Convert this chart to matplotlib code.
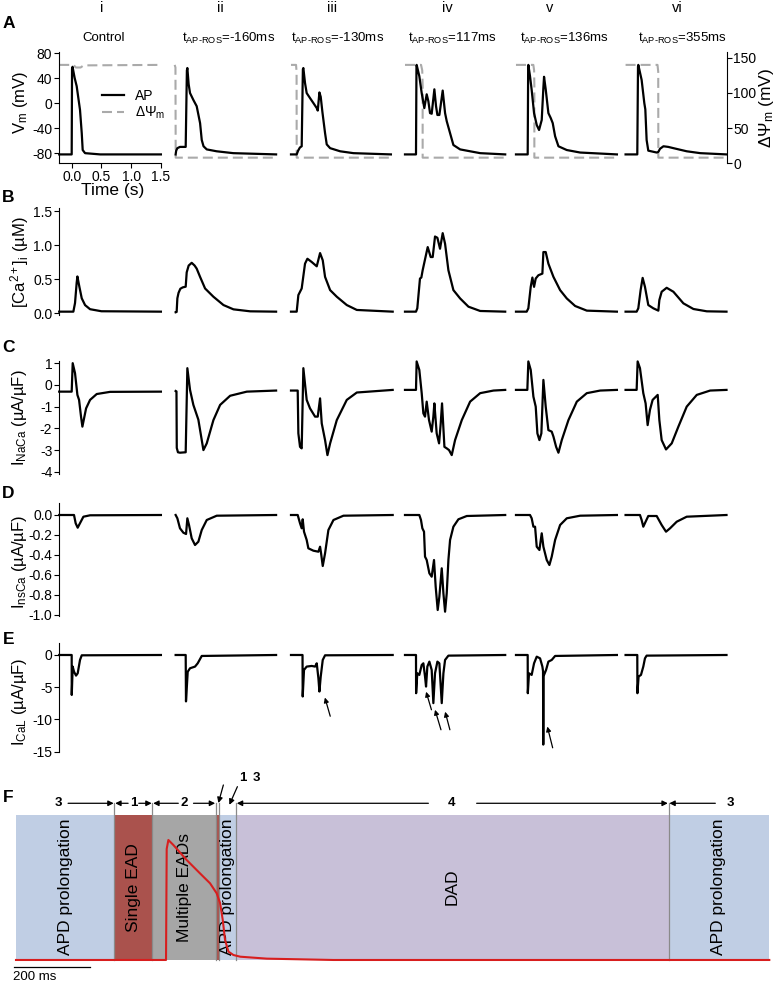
import matplotlib
matplotlib.use("Agg")
import matplotlib.pyplot as plt
import numpy as np

plt.rcParams['font.family'] = ['Liberation Sans', 'DejaVu Sans']
plt.rcParams['mathtext.fontset'] = 'custom'
plt.rcParams['mathtext.rm'] = 'Liberation Sans'
plt.rcParams['mathtext.it'] = 'Liberation Sans:italic'
plt.rcParams['mathtext.bf'] = 'Liberation Sans:bold'
plt.rcParams['axes.unicode_minus'] = False

# ---------------- data ----------------
col_headers = ["i", "ii", "iii", "iv", "v", "vi"]
col_titles = ["Control",
              r"t$_{\mathrm{AP}\text{-}\mathrm{ROS}}$=-160ms",
              r"t$_{\mathrm{AP}\text{-}\mathrm{ROS}}$=-130ms",
              r"t$_{\mathrm{AP}\text{-}\mathrm{ROS}}$=117ms",
              r"t$_{\mathrm{AP}\text{-}\mathrm{ROS}}$=136ms",
              r"t$_{\mathrm{AP}\text{-}\mathrm{ROS}}$=355ms"]

# A: membrane potential (s, mV)
vm_traces = [
    [(-0.21, -82), (0.0, -82), (0.006, 55), (0.014, 58), (0.05, 40), (0.084, 27), (0.14, -11),
     (0.169, -48), (0.185, -75), (0.225, -80), (0.48, -82), (1.5, -82)],
    [(-0.169, -82), (-0.16, -76), (-0.14, -72), (-0.096, -70), (0.0, -70), (0.02, 52), (0.028, 56),
     (0.05, 30), (0.073, 16), (0.129, 5), (0.185, -5), (0.242, -32), (0.27, -59), (0.3, -69),
     (0.354, -74), (0.52, -77), (0.8, -80), (1.52, -82)],
    [(-0.18, -82), (-0.084, -82), (-0.06, -76), (-0.03, -71), (0.0, -69), (0.02, 54), (0.028, 56),
     (0.056, 32), (0.084, 16), (0.14, 8), (0.197, 0), (0.253, -8), (0.27, -12), (0.298, 17),
     (0.32, 10), (0.348, -14), (0.393, -48), (0.421, -66), (0.478, -72), (0.646, -77),
     (0.87, -80), (1.5, -82)],
    [(-0.185, -82), (0.0, -82), (0.008, 58), (0.011, 61), (0.056, 43), (0.096, 16), (0.14, -8),
     (0.18, 14), (0.208, 3), (0.236, -16), (0.264, -17), (0.309, 22), (0.337, -5), (0.36, -19),
     (0.393, -19), (0.449, 20), (0.489, -16), (0.517, -29), (0.573, -48), (0.629, -67),
     (0.742, -74), (0.91, -77), (1.08, -80), (1.5, -82)],
    [(-0.197, -82), (0.0, -82), (0.008, 58), (0.011, 61), (0.039, 43), (0.067, 21), (0.107, -16),
     (0.152, -35), (0.191, -43), (0.236, -27), (0.264, 25), (0.275, 42), (0.303, 22),
     (0.348, -16), (0.388, -24), (0.421, -32), (0.461, -53), (0.517, -69), (0.657, -75),
     (0.882, -79), (1.5, -82)],
    [(-0.197, -82), (0.0, -82), (0.012, 58), (0.017, 61), (0.073, 37), (0.118, 0), (0.135, -10),
     (0.157, -59), (0.185, -76), (0.326, -79), (0.354, -78), (0.382, -73), (0.44, -69),
     (0.52, -70), (0.607, -72), (0.831, -77), (1.06, -80), (1.5, -82)],
]

# A: mitochondrial membrane potential (s, mV)
psi_traces = [
    [(-0.21, 139.7), (0.03, 139.7), (0.07, 136), (0.15, 136), (0.2, 139), (1.5, 139.7)],
    [(-0.185, 139.7), (-0.172, 136), (-0.168, 8), (1.52, 8)],
    [(-0.18, 139.7), (-0.095, 139.7), (-0.086, 130), (-0.084, 8), (1.53, 8)],
    [(-0.185, 139.7), (0.085, 139.7), (0.105, 132), (0.112, 110), (0.112, 8), (1.5, 8)],
    [(-0.197, 139.7), (0.095, 139.7), (0.108, 132), (0.112, 110), (0.112, 8), (1.5, 8)],
    [(-0.197, 139.7), (0.34, 139.7), (0.352, 130), (0.354, 8), (1.5, 8)],
]

# B: cytosolic calcium (s, uM)
cai_traces = [
    [(-0.21, 0.024), (0.028, 0.024), (0.056, 0.15), (0.084, 0.45), (0.096, 0.54), (0.129, 0.39),
     (0.169, 0.22), (0.225, 0.12), (0.309, 0.06), (0.5, 0.03), (1.5, 0.024)],
    [(-0.169, 0.015), (-0.152, 0.02), (-0.14, 0.22), (-0.12, 0.30), (-0.09, 0.36), (-0.05, 0.38),
     (0.0, 0.39), (0.017, 0.6), (0.05, 0.70), (0.101, 0.74), (0.15, 0.70), (0.185, 0.655),
     (0.242, 0.534), (0.326, 0.364), (0.466, 0.243), (0.635, 0.121), (0.803, 0.058),
     (1.084, 0.029), (1.52, 0.024)],
    [(-0.18, 0.024), (-0.084, 0.024), (-0.056, 0.267), (0.0, 0.364), (0.056, 0.728),
     (0.096, 0.80), (0.169, 0.752), (0.253, 0.689), (0.309, 0.883), (0.354, 0.777),
     (0.393, 0.534), (0.478, 0.34), (0.59, 0.243), (0.758, 0.121), (0.927, 0.049), (1.53, 0.024)],
    [(-0.185, 0.024), (0.0, 0.024), (0.022, 0.073), (0.067, 0.51), (0.09, 0.524), (0.112, 0.631),
     (0.197, 0.971), (0.247, 0.825), (0.281, 0.825), (0.32, 1.126), (0.36, 1.107), (0.404, 0.947),
     (0.449, 1.175), (0.489, 1.019), (0.545, 0.631), (0.629, 0.34), (0.742, 0.218),
     (0.882, 0.097), (1.079, 0.034), (1.5, 0.024)],
    [(-0.197, 0.024), (-0.017, 0.024), (0.011, 0.073), (0.051, 0.388), (0.079, 0.524),
     (0.107, 0.388), (0.135, 0.51), (0.18, 0.558), (0.247, 0.582), (0.264, 0.898),
     (0.303, 0.898), (0.348, 0.728), (0.433, 0.534), (0.545, 0.34), (0.657, 0.218),
     (0.798, 0.107), (0.994, 0.039), (1.5, 0.024)],
    [(-0.197, 0.024), (-0.011, 0.024), (0.017, 0.073), (0.056, 0.34), (0.09, 0.519),
     (0.129, 0.388), (0.185, 0.121), (0.27, 0.073), (0.354, 0.039), (0.371, 0.194),
     (0.41, 0.316), (0.494, 0.374), (0.607, 0.316), (0.775, 0.146), (0.944, 0.063),
     (1.169, 0.029), (1.5, 0.024)],
]

# C: Na/Ca exchanger current (s, uA/uF)
inaca_traces = [
    [(-0.21, -0.31), (0.0, -0.31), (0.017, 1.0), (0.056, 0.54), (0.096, -0.46), (0.124, -0.69),
     (0.157, -1.46), (0.18, -1.92), (0.208, -1.54), (0.242, -1.08), (0.309, -0.69),
     (0.421, -0.42), (0.646, -0.32), (1.5, -0.31)],
    [(-0.169, -0.28), (-0.155, -0.3), (-0.15, -2.9), (-0.13, -3.1), (-0.096, -3.12),
     (0.0, -3.1), (0.028, 0.77), (0.073, -0.23), (0.129, -0.92), (0.213, -1.6), (0.298, -3.0),
     (0.354, -2.69), (0.466, -1.62), (0.579, -0.92), (0.747, -0.5), (1.028, -0.31), (1.52, -0.26)],
    [(-0.18, -0.26), (-0.067, -0.26), (-0.056, -2.23), (-0.028, -2.85), (0.0, -2.92),
     (0.028, 0.77), (0.084, -0.69), (0.14, -1.08), (0.225, -1.46), (0.27, -1.46), (0.309, -0.62),
     (0.337, -1.77), (0.393, -2.54), (0.433, -3.23), (0.478, -2.69), (0.59, -1.62),
     (0.758, -0.69), (0.927, -0.35), (1.53, -0.23)],
    [(-0.185, -0.23), (0.0, -0.23), (0.011, 1.08), (0.056, 0.69), (0.096, -0.38), (0.124, -1.31),
     (0.152, -1.46), (0.18, -0.77), (0.219, -1.62), (0.264, -2.15), (0.292, -1.46),
     (0.309, -0.85), (0.348, -2.23), (0.388, -2.69), (0.416, -1.77), (0.438, -0.85),
     (0.478, -2.85), (0.517, -2.92), (0.556, -3.0), (0.601, -3.23), (0.657, -2.54),
     (0.77, -1.62), (0.91, -0.77), (1.079, -0.38), (1.303, -0.26), (1.5, -0.23)],
    [(-0.197, -0.23), (-0.006, -0.23), (0.011, 1.08), (0.051, 0.69), (0.096, -0.54),
     (0.135, -1.0), (0.163, -2.23), (0.197, -2.54), (0.23, -2.23), (0.264, 0.23), (0.303, -1.0),
     (0.348, -2.08), (0.404, -2.15), (0.433, -2.38), (0.478, -2.85), (0.517, -3.12),
     (0.573, -2.54), (0.685, -1.62), (0.826, -0.77), (0.994, -0.38), (1.219, -0.26), (1.5, -0.23)],
    [(-0.197, -0.23), (-0.011, -0.23), (0.006, 1.08), (0.045, 0.77), (0.101, -0.38),
     (0.14, -0.85), (0.174, -1.85), (0.213, -1.15), (0.258, -0.69), (0.343, -0.46),
     (0.371, -1.62), (0.41, -2.54), (0.483, -2.97), (0.579, -2.69), (0.691, -1.92),
     (0.831, -1.0), (1.0, -0.46), (1.225, -0.26), (1.5, -0.23)],
]

# D: nonspecific Ca-activated current (s, uA/uF)
insca_traces = [
    [(-0.21, 0), (0.039, 0), (0.067, -0.083), (0.101, -0.127), (0.124, -0.1), (0.197, -0.017),
     (0.309, -0.003), (1.5, 0)],
    [(-0.169, 0), (-0.14, -0.033), (-0.096, -0.133), (-0.039, -0.177), (0.006, -0.19),
     (0.028, -0.033), (0.056, -0.1), (0.101, -0.233), (0.157, -0.3), (0.213, -0.267),
     (0.27, -0.15), (0.354, -0.05), (0.522, -0.007), (1.52, 0)],
    [(-0.18, 0), (-0.067, 0), (-0.028, -0.083), (0.0, -0.133), (0.017, -0.043), (0.039, -0.167),
     (0.084, -0.25), (0.112, -0.333), (0.197, -0.357), (0.281, -0.367), (0.309, -0.317),
     (0.326, -0.383), (0.354, -0.51), (0.393, -0.383), (0.449, -0.15), (0.534, -0.05),
     (0.702, -0.007), (1.53, 0)],
    [(-0.185, 0), (0.056, 0), (0.084, -0.05), (0.107, -0.133), (0.135, -0.167), (0.152, -0.417),
     (0.18, -0.45), (0.225, -0.583), (0.264, -0.617), (0.303, -0.45), (0.331, -0.717),
     (0.365, -0.95), (0.393, -0.817), (0.433, -0.533), (0.461, -0.783), (0.489, -0.967),
     (0.517, -0.783), (0.545, -0.45), (0.573, -0.25), (0.629, -0.117), (0.713, -0.043),
     (0.854, -0.01), (1.5, 0)],
    [(-0.197, 0), (0.039, 0), (0.067, -0.033), (0.096, -0.117), (0.124, -0.117), (0.152, -0.317),
     (0.197, -0.35), (0.236, -0.183), (0.264, -0.317), (0.32, -0.45), (0.365, -0.5),
     (0.404, -0.417), (0.461, -0.25), (0.545, -0.1), (0.657, -0.033), (0.882, -0.007), (1.5, 0)],
    [(-0.197, 0), (0.045, 0), (0.073, -0.05), (0.101, -0.117), (0.14, -0.067), (0.185, -0.01),
     (0.326, -0.01), (0.41, -0.1), (0.483, -0.167), (0.551, -0.133), (0.663, -0.067),
     (0.831, -0.017), (1.5, 0)],
]

# E: L-type Ca current (s, uA/uF)
ical_traces = [
    [(-0.21, 0), (0.0, 0), (0.001, -6.2), (0.017, -1.8), (0.039, -2.58), (0.073, -3.2),
     (0.101, -2.84), (0.14, -0.77), (0.169, -0.05), (1.5, 0)],
    [(-0.169, 0), (0.0, 0), (0.005, -7.2), (0.034, -2.6), (0.073, -2.06), (0.157, -1.8),
     (0.202, -1.29), (0.27, -0.15), (1.52, 0)],
    [(-0.18, 0), (0.014, 0), (0.017, -6.44), (0.039, -2.32), (0.084, -1.8), (0.169, -1.7),
     (0.225, -1.8), (0.253, -1.29), (0.281, -3.61), (0.298, -5.67), (0.32, -3.35),
     (0.354, -0.77), (0.393, -0.05), (1.53, 0)],
    [(-0.185, 0), (0.0, 0), (0.002, -5.93), (0.022, -2.84), (0.056, -3.09), (0.096, -1.55),
     (0.124, -1.29), (0.152, -3.35), (0.169, -4.9), (0.191, -1.8), (0.225, -1.03),
     (0.264, -2.32), (0.292, -7.47), (0.32, -2.84), (0.36, -1.03), (0.393, -1.29),
     (0.433, -7.47), (0.461, -2.84), (0.489, -0.77), (0.545, -0.1), (1.5, 0)],
    [(-0.197, 0), (0.0, 0), (0.002, -5.93), (0.022, -2.84), (0.067, -3.09), (0.107, -1.29),
     (0.152, -0.26), (0.208, -0.52), (0.247, -1.8), (0.258, -2.5), (0.262, -13.9), (0.266, -3.3),
     (0.309, -2.32), (0.348, -1.03), (0.404, -0.77), (0.461, -0.15), (1.5, 0)],
    [(-0.197, 0), (0.0, 0), (0.002, -5.93), (0.022, -3.35), (0.062, -3.09), (0.101, -1.8),
     (0.129, -0.52), (0.157, -0.1), (1.5, 0)],
]

# F: classification along t_AP-ROS (ms)
f_edges = [0, 259, 359, 526, 534, 579, 1717, 1982]
f_kinds = ["apd", "single", "multi", "single", "apd", "dad", "apd"]
f_names = ["APD prolongation", "Single EAD", "Multiple EADs", "", "APD prolongation", "DAD",
           "APD prolongation"]
f_ap_ms = [0, 394.7, 396.5, 400.9, 414, 449, 484, 510.6, 528, 537, 544, 550, 559, 572, 590,
           660, 835, 1982]
f_ap_mv = [-85, -85, 40, 50, 44.4, 27.5, 12.5, 1.25, -10, -21, -40, -62.5, -75.6, -79.4, -81.3,
           -83.5, -85, -85]

# ---------------- layout ----------------
W, H = 777, 985
fig = plt.figure(figsize=(W / 100, H / 100), dpi=100)


def px_axes(left, top, width, height):
    return fig.add_axes([left / W, 1 - (top + height) / H, width / W, height / H])


def ftext(x, y, s, **kw):
    fig.text(x / W, 1 - y / H, s, **kw)


col_left = [59.2, 173.2, 289.2, 403.5, 515.2, 624.8]
col_w = 101.7
xlim = (-0.21, 1.5)
rows = {  # top px, bottom px, ylim
    "A": (52, 163.3, (-96.2, 81.6)),
    "B": (208, 315, (-0.025, 1.544)),
    "C": (361, 474, (-4.1, 1.1)),
    "D": (503, 616, (-1.01, 0.12)),
    "E": (643, 752, (-15.05, 1.86)),
}
row_ticks = {
    "A": ([80, 40, 0, -40, -80], None),
    "B": ([0.0, 0.5, 1.0, 1.5], "%.1f"),
    "C": ([1, 0, -1, -2, -3, -4], None),
    "D": ([0.0, -0.2, -0.4, -0.6, -0.8, -1.0], "%.1f"),
    "E": ([0, -5, -10, -15], None),
}
row_data = {"B": cai_traces, "C": inaca_traces, "D": insca_traces, "E": ical_traces}
row_labels = {
    "A": (r"V$_{\mathrm{m}}$ (mV)", 102),
    "B": (r"[Ca$^{2+}$]$_{\mathrm{i}}$ (µM)", 262),
    "C": (r"I$_{\mathrm{NaCa}}$ (µA/µF)", 418),
    "D": (r"I$_{\mathrm{nsCa}}$ (µA/µF)", 562),
    "E": (r"I$_{\mathrm{CaL}}$ (µA/µF)", 702),
}
letter_y = {"A": 23, "B": 198, "C": 348, "D": 494, "E": 639, "F": 798}

black_kw = dict(color="black", lw=1.6, solid_joinstyle="round", clip_on=False)
psi_kw = dict(color="#aaaaaa", lw=1.5, linestyle=(0, (4.8, 2.4)), clip_on=False)


def style_left(ax, ticks, fmt):
    for s in ["top", "right", "bottom"]:
        ax.spines[s].set_visible(False)
    ax.spines["left"].set_linewidth(0.8)
    ax.set_yticks(ticks)
    if fmt:
        ax.set_yticklabels([fmt % v for v in ticks])
    ax.tick_params(axis="y", direction="out", length=3.5, width=0.8, labelsize=10, pad=1.5)
    ax.set_xticks([])


axes = {}
for key, (top, bot, ylim) in rows.items():
    for c in range(6):
        ax = px_axes(col_left[c], top, col_w, bot - top)
        ax.set_xlim(*xlim)
        ax.set_ylim(*ylim)
        axes[(key, c)] = ax
        if key == "A":
            tr = np.array(vm_traces[c]).T
            line_ap, = ax.plot(tr[0], tr[1], **black_kw)
            ax2 = ax.twinx()
            ax2.set_ylim(0, 158)
            ps = np.array(psi_traces[c]).T
            line_psi, = ax2.plot(ps[0], ps[1], **psi_kw)
            ax.set_zorder(ax2.get_zorder() + 1)
            ax.patch.set_visible(False)
            for s in ax2.spines.values():
                s.set_visible(False)
            ax2.set_yticks([])
            if c == 5:
                ax2.spines["right"].set_visible(True)
                ax2.spines["right"].set_linewidth(0.8)
                ax2.set_yticks([0, 50, 100, 150])
                ax2.tick_params(axis="y", direction="out", length=3.5, width=0.8,
                                labelsize=10, pad=1.5)
            if c == 0:
                style_left(ax, *row_ticks[key])
                ax.spines["bottom"].set_visible(True)
                ax.spines["bottom"].set_linewidth(0.8)
                ax.set_xticks([0.0, 0.5, 1.0, 1.5])
                ax.set_xticklabels(["0.0", "0.5", "1.0", "1.5"])
                ax.tick_params(axis="x", direction="out", length=3.5, width=0.8,
                               labelsize=10, pad=1.5)
                ax.legend([line_ap, line_psi], ["AP", "ΔΨ$_{\\mathrm{m}}$"], frameon=False,
                          loc="upper left", bbox_to_anchor=(0.42, 0.665), borderaxespad=0,
                          borderpad=0, handlelength=1.6, handletextpad=0.8,
                          labelspacing=0.1, fontsize=10)
            else:
                ax.axis("off")
        else:
            tr = np.array(row_data[key][c]).T
            ax.plot(tr[0], tr[1], **black_kw)
            if c == 0:
                style_left(ax, *row_ticks[key])
            else:
                ax.axis("off")

# arrows marking extra L-type Ca windows in E
arrow_kw = dict(arrowstyle="-|>", color="black", lw=0.9, mutation_scale=7, shrinkA=0, shrinkB=0)
for c, tx, ty, hx, hy in [(2, 0.48, -9.5, 0.39, -6.6), (3, 0.26, -8.5, 0.17, -5.7),
                          (3, 0.42, -11.6, 0.32, -8.5), (3, 0.57, -11.6, 0.49, -8.8),
                          (4, 0.42, -14.4, 0.33, -11.1)]:
    axes[("E", c)].annotate("", xy=(hx, hy), xytext=(tx, ty), arrowprops=arrow_kw)

# headers and titles
header_x = [102, 220, 332, 447, 550, 677]
title_x = [104, 228.7, 338, 452, 564.5, 682]
for c in range(6):
    ftext(header_x[c], 8, col_headers[c], ha="center", va="center", fontsize=10.5)
    ftext(title_x[c], 38, col_titles[c], ha="center", va="center", fontsize=9.5)

ftext(112.5, 190, "Time (s)", ha="center", va="center", fontsize=12.5)
for key, (lab, yc) in row_labels.items():
    ftext(20, yc, lab, ha="center", va="center", rotation=90, fontsize=12)
ftext(767, 108, r"ΔΨ$_{\mathrm{m}}$ (mV)", ha="center", va="center", rotation=90, fontsize=12.5)
for key, yc in letter_y.items():
    ftext(8.5, yc, key, ha="center", va="center", fontsize=12.5, fontweight="bold")

# ---------------- panel F ----------------
kind_color = {"apd": "#c0cee4", "single": "#aa524d", "multi": "#a6a6a6", "dad": "#c8c0d8"}
axf = px_axes(16, 770, 753.3, 205)
axf.set_xlim(f_edges[0], f_edges[-1])
axf.set_ylim(-101.9, 128.75)
axf.axis("off")
lefts = np.array(f_edges[:-1])
widths = np.diff(f_edges)
axf.bar(lefts, 163.1, width=widths, bottom=-85, align="edge",
        color=[kind_color[k] for k in f_kinds], linewidth=0)
for x in f_edges[1:-1]:
    axf.plot([x, x], [-85, 91.3], color="#8a8a8a", lw=0.9)
for k, name in enumerate(f_names):
    if name:
        axf.text(lefts[k] + widths[k] / 2, -3, name, rotation=90, ha="center", va="center",
                 fontsize=12.5)
axf.plot(f_ap_ms, f_ap_mv, color="#d81e1e", lw=1.5, clip_on=False, zorder=5)

f_arrow_kw = dict(arrowstyle="-|>", color="black", lw=0.9, mutation_scale=8, shrinkA=0, shrinkB=0)
for x0, x1 in [(137, 257), (295, 261), (323, 357), (427, 361), (467, 524),
               (1085, 581), (1212, 1715), (1840, 1719)]:
    axf.annotate("", xy=(x1, 91.3), xytext=(x0, 91.3), arrowprops=f_arrow_kw,
                 annotation_clip=False)
for s, x in [("3", 111), ("1", 309), ("2", 443), ("4", 1147), ("3", 1879)]:
    axf.text(x, 91.3, s, ha="center", va="center", fontsize=9.5, fontweight="bold")
for (x0, y0, x1, y1) in [(545.6, 111.9, 532.5, 91.6), (582.5, 110, 561.4, 89.6)]:
    axf.annotate("", xy=(x1, y1), xytext=(x0, y0), arrowprops=f_arrow_kw,
                 annotation_clip=False)
axf.text(597, 119.75, "1", ha="center", va="center", fontsize=9.5, fontweight="bold")
axf.text(633.5, 119.75, "3", ha="center", va="center", fontsize=9.5, fontweight="bold")

# scale bar
axf.plot([-5, 195], [-92.5, -92.5], color="black", lw=0.9, clip_on=False)
axf.text(-8, -104.5, "200 ms", ha="left", va="center", fontsize=9.5)

fig.savefig("out.png", dpi=100)
